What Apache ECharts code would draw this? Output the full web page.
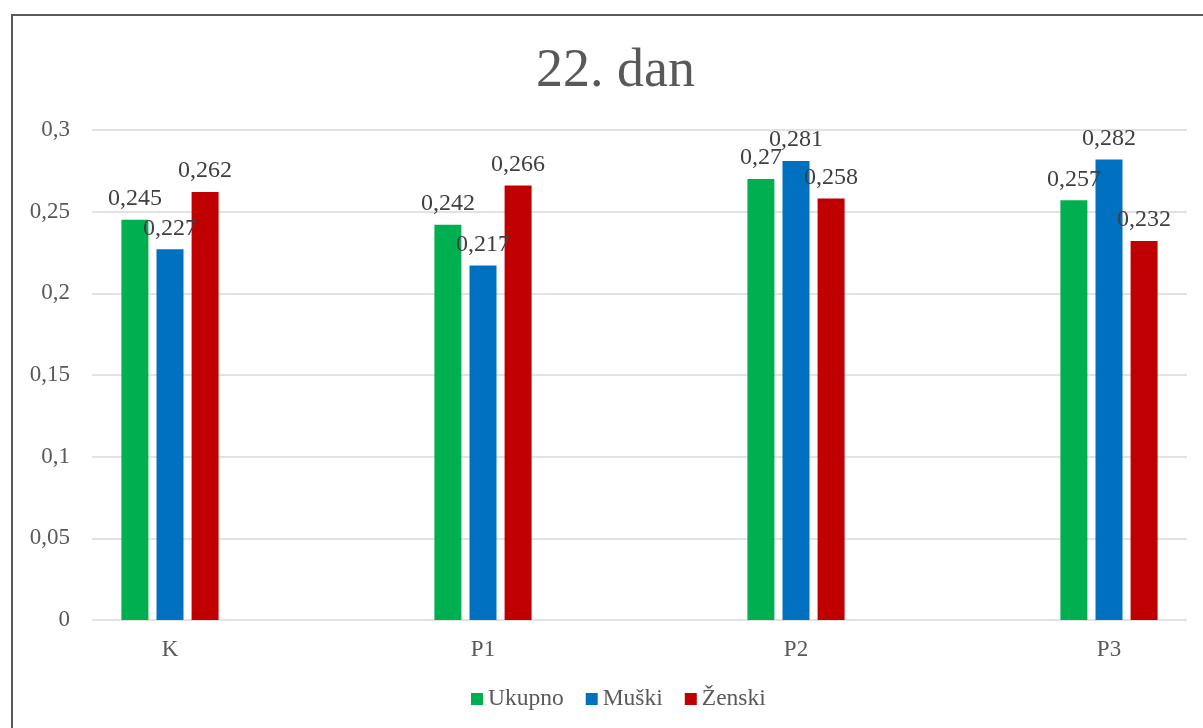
<!DOCTYPE html>
<html>
<head>
<meta charset="utf-8">
<script src="https://cdn.jsdelivr.net/npm/echarts@6/dist/echarts.min.js"></script>
<style>
html,body{margin:0;padding:0;background:#fff;}
#chart{width:1203px;height:728px;}
</style>
</head>
<body>
<div id="chart"></div>
<script>
const categories = ['K', 'P1', 'P2', 'P3'];
const ukupno = [0.245, 0.242, 0.27, 0.257];
const muski = [0.227, 0.217, 0.281, 0.282];
const zenski = [0.262, 0.266, 0.258, 0.232];
const seriesNames = ['Ukupno', 'Muški', 'Ženski'];
const colors = ['#00B050', '#0070C0', '#C00000'];

const FONT = "'Liberation Serif', 'DejaVu Serif', serif";
const comma = v => String(v).replace('.', ',');

const chart = echarts.init(document.getElementById('chart'));
const labelCfg = {
  show: true, position: 'top', distance: 9,
  fontFamily: FONT, fontSize: 24, color: '#404040',
  formatter: p => comma(p.value)
};
function bar(name, data, color) {
  return {
    name, type: 'bar', data, xAxisIndex: 0, yAxisIndex: 0,
    barWidth: 27, barGap: '30%',
    itemStyle: { color },
    label: labelCfg
  };
}
chart.setOption({
  animation: false,
  backgroundColor: '#fff',
  color: colors,
  title: {
    text: '22. dan', left: 531, top: 40,
    textStyle: { fontFamily: FONT, fontSize: 54, fontWeight: 'normal', color: '#595959' }
  },
  legend: {
    data: seriesNames, bottom: 12, left: 466,
    icon: 'rect', itemWidth: 12, itemHeight: 12, itemGap: 22,
    textStyle: { fontFamily: FONT, fontSize: 23.5, color: '#595959' }
  },
  graphic: [{
    type: 'rect', shape: { x: 12, y: 15, width: 1400, height: 900 },
    style: { fill: 'none', stroke: '#595959', lineWidth: 2 }, silent: true, z: -1
  }],
  grid: [
    { left: 170, right: 94, top: 130, bottom: 108 },
    { left: 92, right: 16, top: 130, bottom: 108 }
  ],
  xAxis: [
    {
      type: 'category', gridIndex: 0, data: categories, boundaryGap: false,
      axisLine: { show: false }, axisTick: { show: false },
      axisLabel: { fontFamily: FONT, fontSize: 23, color: '#595959', margin: 18 }
    },
    {
      type: 'value', gridIndex: 1, min: 0, max: 1, show: true,
      axisLine: { show: false }, axisTick: { show: false }, axisLabel: { show: false },
      splitLine: { show: false }
    }
  ],
  yAxis: [
    { type: 'value', gridIndex: 0, min: 0, max: 0.3, interval: 0.05, show: false, splitLine: { show: false } },
    {
      type: 'value', gridIndex: 1, min: 0, max: 0.3, interval: 0.05,
      axisLine: { show: false }, axisTick: { show: false },
      axisLabel: { fontFamily: FONT, fontSize: 23, color: '#595959', margin: 22, formatter: v => comma(v) },
      splitLine: { lineStyle: { color: '#D9D9D9', width: 1.5 } }
    }
  ],
  series: [
    bar(seriesNames[0], ukupno, colors[0]),
    bar(seriesNames[1], muski, colors[1]),
    bar(seriesNames[2], zenski, colors[2])
  ]
});
</script>
</body>
</html>
